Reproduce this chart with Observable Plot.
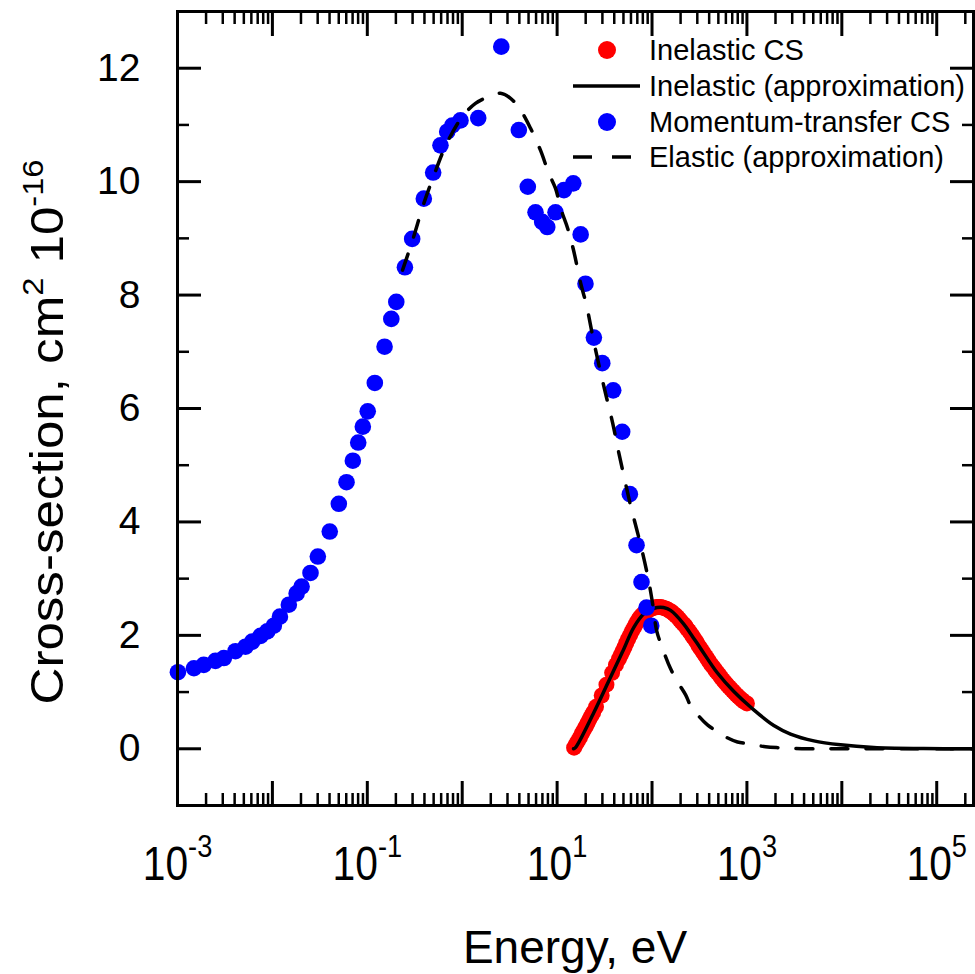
<!DOCTYPE html>
<html><head><meta charset="utf-8">
<script src="https://cdn.jsdelivr.net/npm/d3@7"></script>
<script src="https://cdn.jsdelivr.net/npm/@observablehq/plot@0.6"></script>
<style>body{margin:0;background:#fff} svg{display:block}</style>
</head><body><div id="chart"></div>
<script>
// Momentum-transfer cross-section (blue dots)
const mtEnergy = [0.00101, 0.00149, 0.00189, 0.00251, 0.00308, 0.00408, 0.00521, 0.00612, 0.0075, 0.00882, 0.01035, 0.0120, 0.0149, 0.0180, 0.0203, 0.0252, 0.0301, 0.0402, 0.0501, 0.0604, 0.0704, 0.0802, 0.0897, 0.101, 0.120, 0.152, 0.179, 0.202, 0.249, 0.297, 0.394, 0.494, 0.590, 0.695, 0.785, 0.959, 1.475, 2.58, 3.95, 4.91, 5.92, 6.96, 7.87, 9.62, 11.8, 14.8, 17.7, 19.9, 24.4, 29.9, 39.0, 48.5, 58.4, 68.7, 77.5, 87.5, 98.1];
const mtCS = [1.35, 1.42, 1.48, 1.55, 1.60, 1.72, 1.80, 1.89, 1.99, 2.07, 2.17, 2.33, 2.54, 2.74, 2.86, 3.10, 3.39, 3.83, 4.32, 4.70, 5.08, 5.40, 5.68, 5.95, 6.45, 7.09, 7.58, 7.88, 8.49, 8.99, 9.70, 10.16, 10.64, 10.88, 10.99, 11.08, 11.12, 12.38, 10.91, 9.91, 9.46, 9.29, 9.20, 9.46, 9.85, 9.97, 9.07, 8.20, 7.25, 6.80, 6.32, 5.59, 4.49, 3.59, 2.94, 2.49, 2.17];

// Inelastic cross-section (red dots)
const inelEnergy = [15.1, 15.8, 16.6, 17.4, 18.2, 19.1, 20.0, 20.9, 21.9, 22.9, 24.0, 25.7, 29.5, 33.1, 38.0, 41.7, 44.7, 46.8, 49.0, 51.3, 53.7, 56.2, 58.9, 61.7, 64.6, 67.6, 70.8, 74.1, 77.6, 81.3, 85.1, 89.1, 93.3, 97.7, 102, 107, 112, 117, 123, 129, 135, 141, 148, 155, 162, 170, 178, 186, 195, 204, 214, 224, 234, 245, 257, 269, 282, 295, 309, 324, 339, 355, 372, 389, 407, 427, 447, 468, 490, 513, 537, 562, 589, 617, 646, 676, 708, 741, 776, 813, 851, 891, 933, 1000];
const inelCS = [0.02, 0.08, 0.14, 0.20, 0.27, 0.33, 0.39, 0.45, 0.52, 0.58, 0.64, 0.74, 0.94, 1.13, 1.34, 1.48, 1.58, 1.65, 1.72, 1.79, 1.87, 1.94, 2.01, 2.08, 2.14, 2.20, 2.26, 2.31, 2.35, 2.38, 2.41, 2.43, 2.45, 2.47, 2.48, 2.49, 2.50, 2.50, 2.50, 2.49, 2.48, 2.47, 2.45, 2.43, 2.41, 2.38, 2.35, 2.32, 2.28, 2.24, 2.20, 2.17, 2.12, 2.08, 2.03, 1.98, 1.93, 1.88, 1.82, 1.77, 1.72, 1.67, 1.62, 1.57, 1.52, 1.47, 1.43, 1.38, 1.34, 1.30, 1.25, 1.21, 1.17, 1.13, 1.09, 1.06, 1.02, 0.99, 0.95, 0.92, 0.89, 0.86, 0.83, 0.80];

// Inelastic (approximation) solid line
const inelApproxEnergy = [14.9, 15.6, 24.4, 35.1, 48.6, 64.3, 82.0, 96.4, 113, 132, 157, 216, 255, 325, 487, 728, 1137, 1920, 2880, 5070, 9680, 21700, 72600, 244000];
const inelApproxCS = [0, 0.02, 0.64, 1.20, 1.70, 2.14, 2.38, 2.45, 2.49, 2.49, 2.44, 2.20, 2.03, 1.77, 1.34, 1.01, 0.71, 0.41, 0.26, 0.14, 0.07, 0.023, 0.005, 0];

// Elastic (approximation) dashed line
const elApproxEnergy = [0.235, 0.299, 0.391, 0.498, 0.636, 0.791, 1.008, 1.38, 1.99, 2.53, 3.23, 4.12, 5.25, 6.69, 8.12, 9.62, 11.1, 12.9, 14.9, 17.7, 20.4, 24.2, 28.7, 33.2, 38.4, 44.4, 51.3, 59.4, 68.7, 79.4, 91.9, 101, 112, 129, 157, 186, 226, 255, 309, 384, 490, 595, 796, 1040, 1570, 2260, 4350, 12400, 244000];
const elApproxCS = [8.44, 8.96, 9.60, 10.09, 10.55, 10.87, 11.15, 11.38, 11.51, 11.56, 11.47, 11.26, 10.94, 10.55, 10.16, 9.88, 9.49, 9.18, 8.79, 8.21, 7.82, 7.20, 6.64, 6.19, 5.75, 5.24, 4.76, 4.29, 3.88, 3.46, 2.97, 2.58, 2.08, 1.77, 1.41, 1.18, 0.95, 0.76, 0.58, 0.42, 0.30, 0.21, 0.12, 0.09, 0.035, 0.018, 0, 0, 0];

// Axes
const xDomain = [1e-3, 2.44e5];
const yDomain = [-1, 13];
const xMajorTicks = [1e-3, 1e-2, 1e-1, 1e0, 1e1, 1e2, 1e3, 1e4, 1e5];
const xLabelTicks = [1e-3, 1e-1, 1e1, 1e3, 1e5];
const xLabelExponents = ["-3", "-1", "1", "3", "5"];
const yMajorTicks = [0, 2, 4, 6, 8, 10, 12];
const yMinorTicks = [1, 3, 5, 7, 9, 11];
const xMinorTicks = [];
for (const m of xMajorTicks) for (let k = 2; k <= 9; k++) if (m * k <= xDomain[1]) xMinorTicks.push(m * k);

const legendItems = ["Inelastic CS", "Inelastic (approximation)", "Momentum-transfer CS", "Elastic (approximation)"];
const xTitle = "Energy, eV";

const font = "'Liberation Sans', Arial, Helvetica, sans-serif";
const mt = mtEnergy.map((e, i) => ({e, cs: mtCS[i]}));
const inel = inelEnergy.map((e, i) => ({e, cs: inelCS[i]}));
const inelApprox = inelApproxEnergy.map((e, i) => ({e, cs: inelApproxCS[i]}));
const elApprox = elApproxEnergy.map((e, i) => ({e, cs: elApproxCS[i]}));
const expByTick = new Map(xLabelTicks.map((t, i) => [t, xLabelExponents[i]]));

const major = {tickSize: -24, strokeWidth: 3, text: null, label: null};
const minor = {tickSize: -12, strokeWidth: 2.5, text: null, label: null};

const chart = Plot.plot({
  width: 975, height: 974,
  marginLeft: 177, marginRight: 2, marginTop: 11, marginBottom: 169,
  style: {fontFamily: font, background: "white", color: "black"},
  x: {type: "log", domain: xDomain},
  y: {domain: yDomain},
  marks: [
    Plot.dot(inel, {x: "e", y: "cs", r: 8, fill: "#ff0000"}),
    Plot.line(inelApprox, {x: "e", y: "cs", stroke: "black", strokeWidth: 3.5, curve: "catmull-rom"}),
    Plot.dot(mt, {x: "e", y: "cs", r: 8.3, fill: "#0000ff"}),
    Plot.line(elApprox, {x: "e", y: "cs", stroke: "black", strokeWidth: 3.5, strokeDasharray: "17,18", curve: "catmull-rom"}),
    Plot.axisX(xMajorTicks, {anchor: "bottom", ...major}),
    Plot.axisX(xMinorTicks, {anchor: "bottom", ...minor}),
    Plot.axisX(xMajorTicks, {anchor: "top", ...major}),
    Plot.axisX(xMinorTicks, {anchor: "top", ...minor}),
    Plot.axisY(yMajorTicks, {anchor: "left", ...major}),
    Plot.axisY(yMinorTicks, {anchor: "left", ...minor}),
    Plot.axisY(yMajorTicks, {anchor: "right", ...major}),
    Plot.axisY(yMinorTicks, {anchor: "right", ...minor}),
    Plot.axisX(xLabelTicks, {anchor: "bottom", tickSize: 0, tickPadding: 40, fontSize: 48, label: null,
      tickFormat: (d) => "10|" + expByTick.get(d)}),
    Plot.axisY(yMajorTicks, {anchor: "left", tickSize: 0, tickPadding: 37, fontSize: 39, label: null,
      tickFormat: (d) => String(d)}),
    Plot.frame({stroke: "black", strokeWidth: 3})
  ]
});
document.getElementById("chart").append(chart);

const svg = d3.select(chart);
// superscripts for x tick labels
svg.selectAll('g[aria-label="x-axis tick label"] text').each(function () {
  const t = d3.select(this);
  const [base, exp] = t.text().split("|");
  t.text(base);
  t.append("tspan").attr("dy", -23).attr("font-size", 32).text(exp);
  t.attr("transform", (t.attr("transform") || "") + " scale(0.85,1)");
});

const xs = chart.scale("x");
const [fx0, fx1] = xs.range;
// x title
svg.append("text").attr("x", (fx0 + fx1) / 2).attr("y", 963)
  .attr("text-anchor", "middle").attr("font-size", 46).attr("fill", "black").text(xTitle);
// y title
const yt = svg.append("text")
  .attr("transform", `translate(63,432) rotate(-90)`)
  .attr("text-anchor", "middle").attr("font-size", 47).attr("fill", "black")
  .attr("textLength", 545).attr("lengthAdjust", "spacingAndGlyphs");
yt.append("tspan").text("Cross-section, cm");
yt.append("tspan").attr("dy", -20).attr("font-size", 30).text("2");
yt.append("tspan").attr("dy", 20).text(" 10");
yt.append("tspan").attr("dy", -20).attr("font-size", 30).text("-16");

// legend
const lg = svg.append("g").attr("font-size", 29).attr("fill", "black").attr("text-anchor", "start");
const rowY = [50, 86, 122, 157];
lg.append("circle").attr("cx", 607).attr("cy", rowY[0]).attr("r", 9).attr("fill", "#ff0000");
lg.append("line").attr("x1", 573).attr("x2", 640).attr("y1", rowY[1]).attr("y2", rowY[1]).attr("stroke", "black").attr("stroke-width", 3.5);
lg.append("circle").attr("cx", 607).attr("cy", rowY[2]).attr("r", 9).attr("fill", "#0000ff");
lg.append("line").attr("x1", 573).attr("x2", 631).attr("y1", rowY[3]).attr("y2", rowY[3]).attr("stroke", "black").attr("stroke-width", 3.5).attr("stroke-dasharray", "19,20");
legendItems.forEach((s, i) => {
  lg.append("text").attr("x", 649).attr("y", rowY[i] + 10).attr("text-anchor", "start").text(s);
});
</script>
</body></html>
